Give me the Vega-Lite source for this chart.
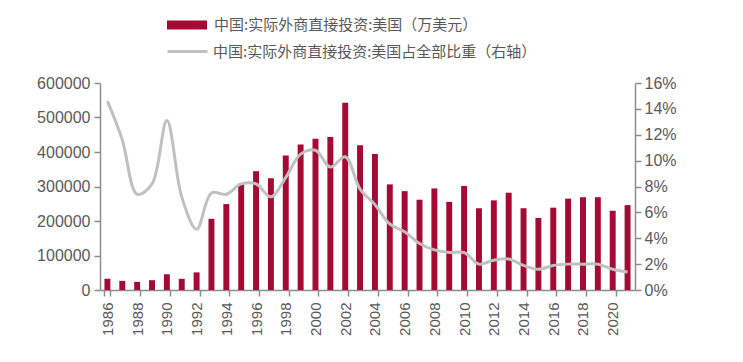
{
  "$schema": "https://vega.github.io/schema/vega-lite/v6.json",
  "width": 535,
  "height": 207,
  "autosize": {"type": "none"},
  "padding": {"left": 100, "top": 83, "right": 108, "bottom": 72},
  "background": "white",
  "config": {
    "view": {"stroke": null},
    "font": "Liberation Sans",
    "axis": {"grid": false, "domainColor": "#8c8c8c", "tickColor": "#8c8c8c", "domainWidth": 1.5, "tickWidth": 1.5, "labelColor": "#595959", "labelFont": "Liberation Sans", "labelFontSize": 16, "title": null, "tickSize": 6},
    "legend": {"labelFont": "Noto Sans CJK SC", "labelFontSize": 15, "labelColor": "#595959", "title": null, "labelLimit": 600}
  },
  "data": {"values": [
    {"year": "1986", "fdi": 32617, "share": 0.146},
    {"year": "1987", "fdi": 26280, "share": 0.116},
    {"year": "1988", "fdi": 23596, "share": 0.074},
    {"year": "1989", "fdi": 28427, "share": 0.082},
    {"year": "1990", "fdi": 45599, "share": 0.131},
    {"year": "1991", "fdi": 32300, "share": 0.072},
    {"year": "1992", "fdi": 51105, "share": 0.047},
    {"year": "1993", "fdi": 206312, "share": 0.075},
    {"year": "1994", "fdi": 249080, "share": 0.074},
    {"year": "1995", "fdi": 308301, "share": 0.082},
    {"year": "1996", "fdi": 344333, "share": 0.082},
    {"year": "1997", "fdi": 323915, "share": 0.072},
    {"year": "1998", "fdi": 389844, "share": 0.087},
    {"year": "1999", "fdi": 421586, "share": 0.105},
    {"year": "2000", "fdi": 438389, "share": 0.108},
    {"year": "2001", "fdi": 443322, "share": 0.095},
    {"year": "2002", "fdi": 542392, "share": 0.103},
    {"year": "2003", "fdi": 419851, "share": 0.078},
    {"year": "2004", "fdi": 394095, "share": 0.066},
    {"year": "2005", "fdi": 306123, "share": 0.051},
    {"year": "2006", "fdi": 286509, "share": 0.045},
    {"year": "2007", "fdi": 261623, "share": 0.036},
    {"year": "2008", "fdi": 294434, "share": 0.031},
    {"year": "2009", "fdi": 255499, "share": 0.029},
    {"year": "2010", "fdi": 301734, "share": 0.029},
    {"year": "2011", "fdi": 236932, "share": 0.020},
    {"year": "2012", "fdi": 259809, "share": 0.023},
    {"year": "2013", "fdi": 281987, "share": 0.024},
    {"year": "2014", "fdi": 237058, "share": 0.019},
    {"year": "2015", "fdi": 208900, "share": 0.016},
    {"year": "2016", "fdi": 238600, "share": 0.019},
    {"year": "2017", "fdi": 264800, "share": 0.020},
    {"year": "2018", "fdi": 268900, "share": 0.020},
    {"year": "2019", "fdi": 269000, "share": 0.020},
    {"year": "2020", "fdi": 230000, "share": 0.016},
    {"year": "2021", "fdi": 246000, "share": 0.014}
  ]},
  "encoding": {
    "x": {
      "field": "year", "type": "ordinal",
      "scale": {"paddingInner": 0.6, "paddingOuter": 0.3},
      "axis": {"labelAngle": -90, "labelPadding": 6, "tickBand": "extent",
               "values": ["1986","1988","1990","1992","1994","1996","1998","2000","2002","2004","2006","2008","2010","2012","2014","2016","2018","2020"],
               "labelFontSize": 15}
    }
  },
  "layer": [
    {
      "mark": {"type": "bar"},
      "encoding": {
        "y": {"field": "fdi", "type": "quantitative",
              "scale": {"domain": [0, 600000], "nice": false},
              "axis": {"values": [0,100000,200000,300000,400000,500000,600000], "format": "d", "labelPadding": 4}},
        "fill": {"datum": "中国:实际外商直接投资:美国（万美元）", "type": "nominal",
                 "scale": {"range": ["#A50A35"]},
                 "legend": {"orient": "none", "legendX": 67, "legendY": -78, "symbolType": "M-1,-0.23H1V0.23H-1Z", "symbolSize": 1600, "symbolStrokeWidth": 0, "labelOffset": 7}}
      }
    },
    {
      "mark": {"type": "line", "interpolate": "catmull-rom", "strokeWidth": 3},
      "encoding": {
        "y": {"field": "share", "type": "quantitative",
              "scale": {"domain": [0, 0.16], "nice": false},
              "axis": {"orient": "right", "values": [0,0.02,0.04,0.06,0.08,0.1,0.12,0.14,0.16], "format": ".0%", "labelPadding": 3}},
        "stroke": {"datum": "中国:实际外商直接投资:美国占全部比重（右轴）", "type": "nominal",
                   "scale": {"range": ["#C0C0C0"]},
                   "legend": {"orient": "none", "legendX": 66, "legendY": -53, "symbolType": "stroke", "symbolSize": 1600, "symbolStrokeWidth": 3, "labelOffset": 4}}
      }
    }
  ],
  "resolve": {"scale": {"y": "independent"}}
}
